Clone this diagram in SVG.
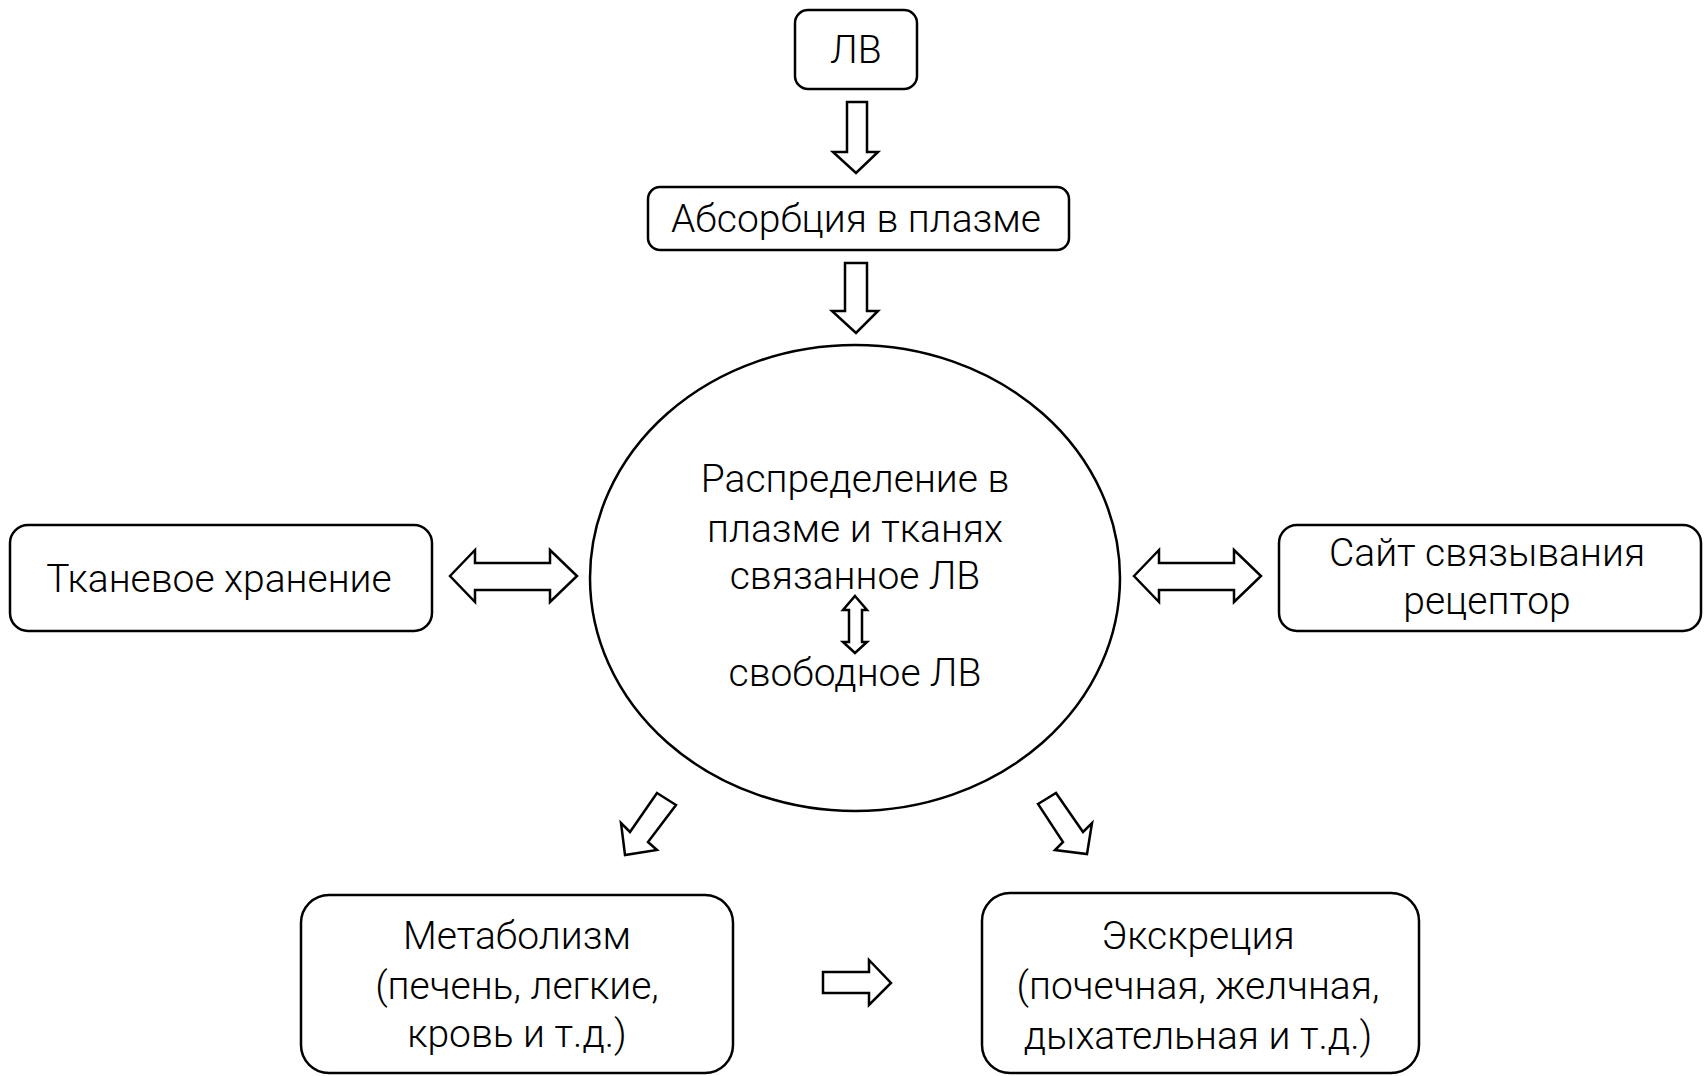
<svg xmlns="http://www.w3.org/2000/svg" width="1705" height="1076" viewBox="0 0 1705 1076">
<style>
.box{fill:#fff;stroke:#000;stroke-width:2.5}
.arr{fill:#fff;stroke:#000;stroke-width:2.5;stroke-linejoin:miter}
text{font-family:Roboto,"Open Sans","Liberation Sans",sans-serif;font-weight:300;font-size:39px;fill:#000;text-anchor:middle}
</style>
<rect width="1705" height="1076" fill="#fff"/>
<g id="connectors">
<polygon class="arr" points="847,102 867,102 867,152 878,152 856,173 833,152 847,152"/>
<polygon class="arr" points="845,263 867,263 867,311 878,311 856,333 832,311 845,311"/>
<polygon class="arr" points="450,576 475,550 475,563 550,563 550,550 577,576 550,602 550,590 475,590 475,602"/>
<polygon class="arr" points="1134,576 1159,550 1159,563 1234,563 1234,550 1261,576 1234,602 1234,590 1159,590 1159,602"/>
<polygon class="arr" points="657,793 676,805 648,842 657,850 625,855 621,823 630,832"/>
<polygon class="arr" points="1038,804 1056,793 1083,832 1092,823 1087,854 1055,850 1063,842"/>
<polygon class="arr" points="823,972 869,972 869,960 891,983 869,1005 869,993 823,993"/>
</g>
<g id="lv">
<rect class="box" x="795" y="10" width="122" height="79" rx="13"/>
<text x="856" y="63">ЛВ</text>
</g>
<g id="absorption">
<rect class="box" x="648" y="187" width="421" height="63" rx="12"/>
<text x="856" y="232">Абсорбция в плазме</text>
</g>
<g id="distribution">
<ellipse class="box" cx="855" cy="578" rx="265" ry="233"/>
<text x="855" y="492">Распределение в</text>
<text x="855" y="542">плазме и тканях</text>
<text x="855" y="589">связанное ЛВ</text>
<polygon class="arr" points="855,596 867,610 862,610 862,642 867,642 855,653 843,642 849,642 849,610 843,610"/>
<text x="855" y="686">свободное ЛВ</text>
</g>
<g id="storage">
<rect class="box" x="10" y="525" width="422" height="106" rx="18"/>
<text x="219" y="592">Тканевое хранение</text>
</g>
<g id="receptor">
<rect class="box" x="1279" y="525" width="422" height="106" rx="18"/>
<text x="1487" y="566">Сайт связывания</text>
<text x="1487" y="614">рецептор</text>
</g>
<g id="metabolism">
<rect class="box" x="301" y="895" width="432" height="178" rx="28"/>
<text x="517" y="949">Метаболизм</text>
<text x="517" y="999">(печень, легкие,</text>
<text x="517" y="1047">кровь и т.д.)</text>
</g>
<g id="excretion">
<rect class="box" x="982" y="893" width="437" height="180" rx="28"/>
<text x="1198" y="949">Экскреция</text>
<text x="1198" y="999">(почечная, желчная,</text>
<text x="1198" y="1049">дыхательная и т.д.)</text>
</g>
</svg>
